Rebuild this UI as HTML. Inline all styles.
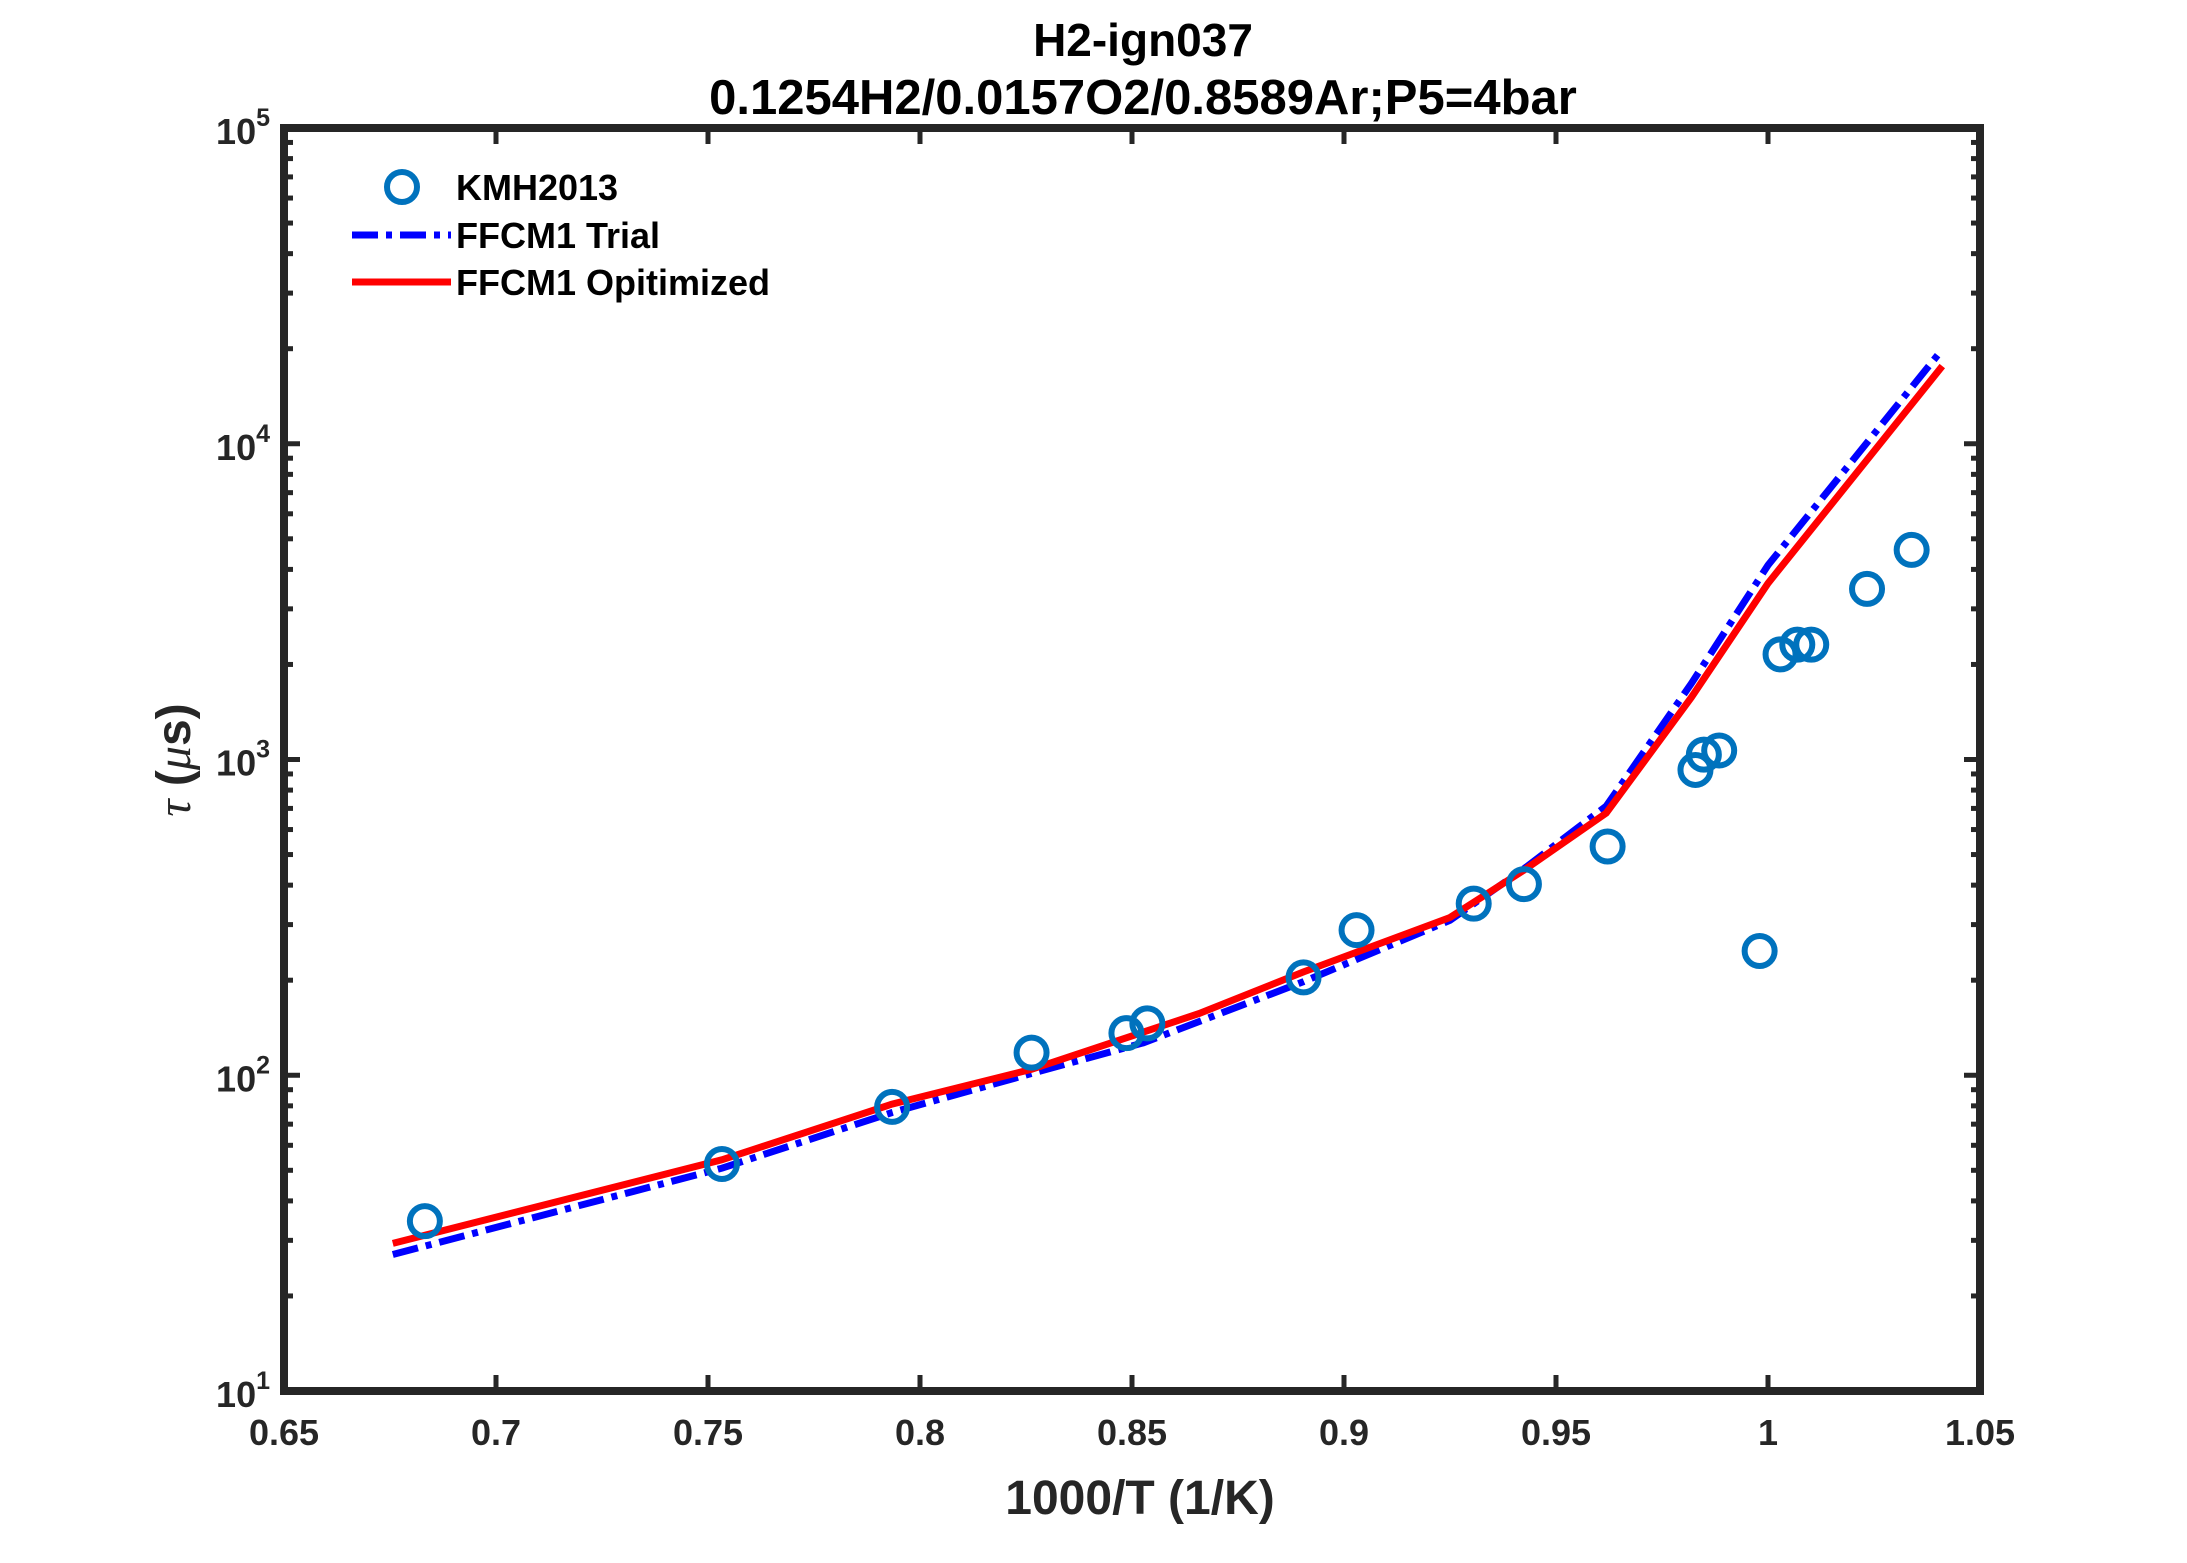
<!DOCTYPE html>
<html><head><meta charset="utf-8"><style>
html,body{margin:0;padding:0;background:#fff;}
svg{display:block;font-family:"Liberation Sans",Arial,sans-serif;font-weight:bold;}
</style></head><body>
<svg id="s" width="2187" height="1563" xmlns="http://www.w3.org/2000/svg">
<rect width="2187" height="1563" fill="#fff"/>
<g id="g"></g>
<text x="1143" y="56" font-size="46" text-anchor="middle" fill="#000">H2-ign037</text>
<text x="1143" y="114" font-size="49" text-anchor="middle" fill="#000">0.1254H2/0.0157O2/0.8589Ar;P5=4bar</text>
<text x="1140" y="1514" font-size="48" text-anchor="middle" fill="#262626">1000/T (1/K)</text>
<text transform="translate(190,760) rotate(-90)" font-size="48" text-anchor="middle" fill="#262626" font-weight="normal"><tspan font-family="Liberation Serif" font-style="italic">τ</tspan> <tspan font-weight="bold">(</tspan><tspan font-family="Liberation Serif" font-style="italic">μ</tspan><tspan font-weight="bold">s)</tspan></text>
<circle cx="402" cy="187" r="15" fill="none" stroke="#0072BD" stroke-width="6"/>
<text x="456" y="200" font-size="36" fill="#000">KMH2013</text>
<line x1="352" y1="235" x2="451" y2="235" stroke="#0000ff" stroke-width="7" stroke-dasharray="26,8,6,8"/>
<text x="456" y="248" font-size="36" fill="#000">FFCM1 Trial</text>
<line x1="352" y1="282" x2="451" y2="282" stroke="#ff0000" stroke-width="7"/>
<text x="456" y="295" font-size="36" fill="#000">FFCM1 Opitimized</text>
</svg>
<script>
const L=284,R=1980,T=128,B=1391;
const X=v=>L+(v-0.65)/0.4*(R-L);
const Y=v=>B-(Math.log10(v)-1)/4*(B-T);
const dx=x=>L+(x-204)*((R-L)/1216), dy=y=>T+(y-91)*1.3925;
let h='';
const red=[[282,892],[518,832],[640,792],[740,767],[860,727],[935,697],[1040,658],[1093,624],[1152,583],[1213,500],[1268,418],[1393,262]];
const blue=[[282,900],[518,838],[640,798],[740,770],[820,748],[935,704],[1040,660],[1093,623],[1152,578],[1213,490],[1268,405],[1393,250]];
const pl=(a)=>a.map(p=>dx(p[0]).toFixed(1)+','+dy(p[1]).toFixed(1)).join(' ');
h+=`<polyline points="${pl(blue)}" fill="none" stroke="#0000ff" stroke-width="7" stroke-dasharray="26,8,6,8"/>`;
h+=`<polyline points="${pl(red)}" fill="none" stroke="#ff0000" stroke-width="7"/>`;
const pts=[[305,876],[518,835],[640,794],[740,755],[808,741],[823,734],[935,701],[973,667],[1057,648],[1093,634],[1153,607],[1216,552],[1222,541],[1233,538],[1262,682],[1277,469],[1289,462],[1299,462],[1339,422],[1371,394]];
pts.forEach(p=>h+=`<circle cx="${dx(p[0])}" cy="${dy(p[1])}" r="15" fill="none" stroke="#0072BD" stroke-width="6"/>`);
for(let i=0;i<=8;i++){const v=0.65+i*0.05,x=X(v);
 h+=`<line x1="${x}" y1="${B}" x2="${x}" y2="${B-16}" stroke="#262626" stroke-width="5"/><line x1="${x}" y1="${T}" x2="${x}" y2="${T+16}" stroke="#262626" stroke-width="5"/>`;
 let s=(Math.round(v*100)/100).toString();
 h+=`<text x="${x}" y="${B+54}" font-size="36" text-anchor="middle" fill="#262626">${s}</text>`;}
for(let d=1;d<=5;d++){const y=Y(Math.pow(10,d));
 h+=`<line x1="${L}" y1="${y}" x2="${L+16}" y2="${y}" stroke="#262626" stroke-width="5"/><line x1="${R}" y1="${y}" x2="${R-16}" y2="${y}" stroke="#262626" stroke-width="5"/>`;
 h+=`<text x="${L-14}" y="${y+16}" font-size="36" text-anchor="end" fill="#262626">10<tspan dy="-18" font-size="25">${d}</tspan></text>`;
 if(d<5)for(let k=2;k<=9;k++){const yy=Y(k*Math.pow(10,d));
  h+=`<line x1="${L}" y1="${yy}" x2="${L+9}" y2="${yy}" stroke="#262626" stroke-width="5"/><line x1="${R}" y1="${yy}" x2="${R-9}" y2="${yy}" stroke="#262626" stroke-width="5"/>`;}}
h+=`<rect x="${L}" y="${T}" width="${R-L}" height="${B-T}" fill="none" stroke="#262626" stroke-width="8"/>`;
document.getElementById('g').innerHTML=h;
</script>
</body></html>
